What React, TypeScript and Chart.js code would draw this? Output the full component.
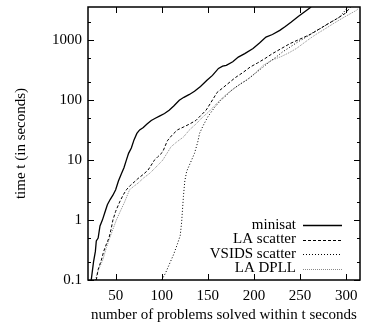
import { useEffect, useRef } from "react";
import { Chart, registerables } from "chart.js";

Chart.register(...registerables);

const seriesNames = ["minisat", "LA scatter", "VSIDS scatter", "LA DPLL"];

const minisatSolved = [23.5, 26, 28, 29, 31, 33, 35.6, 38, 41, 44, 47, 50, 53, 56, 59, 61.6, 64, 67, 70, 73, 76, 80, 84, 88.6, 93, 98, 103, 108, 113, 119, 124, 130, 135.5, 142, 149, 155, 161.5, 166, 170, 177, 183, 190, 199, 206, 213, 220, 228, 234, 240.5, 248, 255, 262];
const minisatTime = [0.1, 0.2, 0.3, 0.45, 0.5, 0.8, 1, 1.3, 1.8, 2.2, 2.6, 3.2, 4.5, 5.8, 7.5, 10, 13, 16, 22, 28, 32, 35, 40, 46, 50, 55, 60, 68, 80, 100, 112, 125, 141, 170, 215, 260, 340, 370, 383, 440, 525, 600, 730, 900, 1135, 1250, 1468, 1700, 2020, 2500, 3000, 3600];

const laScatterSolved = [29, 31, 34.5, 37, 40, 42.7, 45, 47, 50, 54.3, 58, 61.6, 66, 70, 74, 80, 85, 88, 92, 96, 101, 106, 111, 117, 124, 130, 137, 142, 148, 153, 160, 166, 174, 180, 188, 196, 204, 212, 220, 229, 239, 250, 262, 271, 280.5, 290, 298.6, 305];
const laScatterTime = [0.1, 0.15, 0.215, 0.3, 0.4, 0.5, 0.7, 1, 1.4, 2, 2.6, 3.2, 3.8, 4.3, 4.9, 5.8, 6.8, 8, 10, 11.5, 13.7, 21, 26, 32, 36, 40, 46, 55, 68, 90, 135, 160, 202, 240, 290, 359, 420, 497, 600, 720, 881, 1050, 1277, 1550, 1896, 2300, 2790, 3600];

const vsidsSolved = [100, 104, 108, 113, 117, 120, 121.5, 122.5, 123.5, 125, 127, 131, 135.5, 139, 141, 145, 150, 157, 164, 170, 174, 180, 186, 192, 200, 210, 217, 224, 231, 239, 248, 256.7, 264, 271.5, 282, 293, 302];
const vsidsTime = [0.1, 0.13, 0.18, 0.27, 0.4, 0.55, 0.9, 1.5, 2.5, 4.5, 6.5, 9, 13, 20, 28, 38, 53, 75, 100, 120, 140, 165, 190, 215, 270, 359, 440, 525, 640, 770, 950, 1135, 1350, 1555, 1950, 2450, 3600];

const laDpllSolved = [28, 30, 33, 36, 40, 43.5, 47, 50.7, 55, 59.7, 65, 70, 74, 80, 86.8, 92, 97.6, 101, 105.5, 110, 116, 123.6, 130, 137, 144.5, 150, 157, 163, 170, 178, 187, 196, 203, 210, 220, 230, 238, 246, 254, 261, 268, 277, 286, 295, 303, 311, 314];
const laDpllTime = [0.1, 0.13, 0.17, 0.215, 0.35, 0.5, 0.7, 1, 1.4, 2, 3.2, 3.7, 4.1, 5, 6, 7.2, 8.8, 10, 12.9, 16.7, 20, 24.4, 32, 40, 52.7, 62, 80, 100, 125, 155, 195, 242, 300, 383, 470, 540, 620, 730, 900, 1080, 1277, 1550, 1896, 2300, 2700, 3160, 3500];

const xTicks = [50, 100, 150, 200, 250, 300];
const yTicks = [0.1, 1, 10, 100, 1000];
const yMinorTicks = [0.2, 0.5, 2, 5, 20, 50, 200, 500, 2000];

const FONT = "'Liberation Serif', 'DejaVu Serif', serif";

function zip(xs: number[], ys: number[]) {
  return xs.map((v, i) => ({ x: v, y: ys[i] }));
}

const framePlugin = {
  id: "frameTicksLegend",
  afterDatasetsDraw(chart: any) {
    const { ctx, chartArea, scales } = chart;
    const { left, right, top, bottom } = chartArea;
    const x = scales.x;
    const y = scales.y;
    ctx.save();
    ctx.strokeStyle = "#000";
    ctx.lineWidth = 1;
    ctx.setLineDash([]);
    ctx.beginPath();
    xTicks.forEach((v) => {
      const px = Math.round(x.getPixelForValue(v)) + 0.5;
      ctx.moveTo(px, bottom);
      ctx.lineTo(px, bottom - 6);
      ctx.moveTo(px, top);
      ctx.lineTo(px, top + 6);
    });
    yTicks.forEach((v) => {
      const py = Math.round(y.getPixelForValue(v)) + 0.5;
      ctx.moveTo(left, py);
      ctx.lineTo(left + 6, py);
      ctx.moveTo(right, py);
      ctx.lineTo(right - 6, py);
    });
    yMinorTicks.forEach((v) => {
      const py = Math.round(y.getPixelForValue(v)) + 0.5;
      ctx.moveTo(left, py);
      ctx.lineTo(left + 3, py);
      ctx.moveTo(right, py);
      ctx.lineTo(right - 3, py);
    });
    ctx.stroke();
    ctx.lineWidth = 1.5;
    ctx.strokeRect(left, top, right - left, bottom - top);

    // legend inside bottom right
    ctx.font = `15px ${FONT}`;
    ctx.fillStyle = "#000";
    ctx.textAlign = "right";
    ctx.textBaseline = "middle";
    chart.data.datasets.forEach((ds: any, i: number) => {
      const ly = 225 + i * 14.5;
      ctx.fillText(ds.label, 296, ly);
      ctx.beginPath();
      ctx.strokeStyle = ds.borderColor;
      ctx.lineWidth = ds.borderWidth;
      ctx.setLineDash(ds.borderDash || []);
      ctx.moveTo(303, Math.round(ly) + 0.5);
      ctx.lineTo(342, Math.round(ly) + 0.5);
      ctx.stroke();
    });
    ctx.setLineDash([]);

    // axis titles
    ctx.fillStyle = "#000";
    ctx.textAlign = "center";
    ctx.textBaseline = "middle";
    ctx.fillText("number of problems solved within t seconds", (left + right) / 2, 315);
    ctx.translate(21, (top + bottom) / 2);
    ctx.rotate(-Math.PI / 2);
    ctx.fillText("time t (in seconds)", 0, 0);
    ctx.restore();
  },
};

export default function App() {
  const ref = useRef<HTMLCanvasElement | null>(null);
  useEffect(() => {
    document.body.style.margin = "0";
    if (!ref.current) return;
    const chart = new Chart(ref.current, {
      type: "line",
      data: {
        datasets: [
          { label: seriesNames[0], data: zip(minisatSolved, minisatTime), borderColor: "#000", borderWidth: 1.3, borderDash: [], pointRadius: 0, tension: 0, fill: false },
          { label: seriesNames[1], data: zip(laScatterSolved, laScatterTime), borderColor: "#000", borderWidth: 1, borderDash: [3, 2], pointRadius: 0, tension: 0, fill: false },
          { label: seriesNames[2], data: zip(vsidsSolved, vsidsTime), borderColor: "#000", borderWidth: 1, borderDash: [1, 2], pointRadius: 0, tension: 0, fill: false },
          { label: seriesNames[3], data: zip(laDpllSolved, laDpllTime), borderColor: "#888", borderWidth: 1, borderDash: [1, 1], pointRadius: 0, tension: 0, fill: false },
        ],
      },
      options: {
        responsive: false,
        animation: false,
        devicePixelRatio: 1,
        layout: { padding: { top: 7, right: 8, left: 0, bottom: 0 } },
        plugins: { legend: { display: false }, tooltip: { enabled: false } },
        scales: {
          x: {
            type: "linear",
            min: 20,
            max: 315,
            grid: { display: false, drawTicks: false },
            border: { display: false },
            afterFit: (s: any) => { s.height = 48; s.paddingLeft = 0; s.paddingRight = 0; },
            afterBuildTicks: (s: any) => { s.ticks = xTicks.map((v) => ({ value: v })); },
            ticks: { color: "#000", font: { family: FONT, size: 15 }, padding: 7, maxRotation: 0, autoSkip: false, callback: (v: any) => String(v) },
          },
          y: {
            type: "logarithmic",
            min: 0.1,
            max: 3600,
            grid: { display: false, drawTicks: false },
            border: { display: false },
            afterFit: (s: any) => { s.width = 88; s.paddingTop = 0; s.paddingBottom = 0; },
            afterBuildTicks: (s: any) => { s.ticks = yTicks.map((v) => ({ value: v })); },
            ticks: { color: "#000", font: { family: FONT, size: 15 }, padding: 6, autoSkip: false, callback: (v: any) => String(v) },
          },
        },
      },
      plugins: [framePlugin],
    });
    return () => chart.destroy();
  }, []);
  return <canvas ref={ref} width={368} height={328} style={{ display: "block" }} />;
}
